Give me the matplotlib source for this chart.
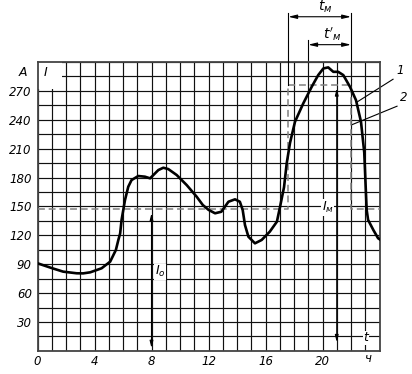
import numpy as np
import matplotlib.pyplot as plt
from matplotlib.patches import Rectangle

plt.rcParams['font.family'] = ['DejaVu Sans']
plt.rcParams['font.style'] = 'italic'
plt.rcParams['mathtext.fontset'] = 'dejavusans'

# load curve 1 (hours, amperes)
t1 = [0, 0.5, 1.0, 1.8, 2.75, 3.2, 3.7, 4.5, 5.1, 5.5, 5.67, 5.8, 5.9, 6.14, 6.37,
      6.6, 7.07, 7.54, 7.9, 8.13, 8.48, 8.83, 9.18, 9.77, 10.47, 11.17, 11.6, 12.0,
      12.46, 12.9, 13.4, 13.86, 14.2, 14.4, 14.56, 14.8, 15.26, 15.73, 16.3, 16.8,
      17.02, 17.3, 17.49, 17.72, 18.07, 18.65, 19.24, 19.7, 20.06, 20.4, 20.76, 21.1,
      21.46, 21.93, 22.35, 22.7, 22.93, 23.03, 23.1, 23.2, 23.57, 23.9, 24.0]
i1 = [91, 88.5, 86, 82.3, 80.6, 80.5, 81.6, 85.8, 92.7, 104.8, 115, 122, 136, 156.7,
      170.5, 177.4, 181.6, 180.9, 179.2, 182.6, 187.8, 190.2, 188.8, 182.6, 172.2,
      160.1, 151.5, 146.5, 142.9, 144.5, 154.9, 157.4, 154.9, 146.3, 130.7, 118.6,
      111.7, 115.2, 123.8, 134.2, 149.6, 170, 195, 216, 238, 257, 274.2, 286.4,
      293.3, 294.4, 289.8, 289.8, 286.4, 274.2, 260.4, 238, 206, 170.5, 146.3, 136,
      125.5, 117, 116]

# equivalent rectangular load (curve 2)
t2 = [0, 17.6, 17.6, 22.0, 22.0, 24]
i2 = [147, 147, 276, 276, 147, 147]

t_m = (17.6, 22.0)
t_m2 = (19.0, 22.0)

xticks = [0, 4, 8, 12, 16, 20]
yticks = [30, 60, 90, 120, 150, 180, 210, 240, 270]

fig = plt.figure(figsize=(4.12, 3.74), dpi=100)
ax = fig.add_axes([37.5 / 412, 23.1 / 374, 342 / 412, 288.9 / 374])
ax.set_xlim(0, 24)
ax.set_ylim(0, 300)

ax.set_xticks(xticks)
ax.set_xticklabels([str(v) for v in xticks])
ax.set_xticks(np.arange(0, 25, 1), minor=True)
ax.set_yticks(yticks)
ax.set_yticklabels([str(v) for v in yticks])
ax.set_yticks(np.arange(0, 301, 15), minor=True)
ax.tick_params(which='both', length=0, labelsize=8.5)
ax.tick_params(axis='x', pad=3)
ax.tick_params(axis='y', pad=4)
ax.grid(which='both', color='#111111', lw=0.85)
ax.set_axisbelow(True)
for s in ax.spines.values():
    s.set_color('#444444')
    s.set_linewidth(1.3)

# white patch behind the "I" label
ax.add_patch(Rectangle((0, 272), 1.7, 28, facecolor='white', edgecolor='none', zorder=1.5))
ax.text(0.4, 289, 'I', fontsize=9, ha='left', va='center', zorder=3)
ax.text(-1.0, 289, 'A', fontsize=9, ha='center', va='center', clip_on=False)

ax.plot(t2, i2, color='#808080', lw=1.1, dashes=(4.5, 2.5), zorder=3)
ax.plot(t1, i1, color='black', lw=1.9, solid_joinstyle='round', zorder=4)

# I_o and I_m markers
arr = dict(arrowstyle='<|-|>,head_length=0.4,head_width=0.1', color='black', lw=0.8,
           shrinkA=0, shrinkB=0)
ax.annotate('', xy=(8, 143), xytext=(8, 3), arrowprops=arr)
ax.annotate('', xy=(21, 272.7), xytext=(21, 9), arrowprops=arr)

box = dict(facecolor='white', edgecolor='none', pad=0.5)
ax.text(8.25, 82, r'$I_o$', fontsize=9, ha='left', va='center', bbox=box, zorder=3)
ax.text(20.35, 149, r'$I_м$', fontsize=9, ha='center', va='center', bbox=box, zorder=3)
ax.text(23.05, 13.4, 't', fontsize=9, ha='center', va='center', bbox=box, zorder=3)
ax.text(23.2, -8.4, 'ч', fontsize=8.5, ha='center', va='center', clip_on=False)

# dimension lines for t_m and t'_m
ax.plot([t_m[0], t_m[0]], [276, 351], color='black', lw=0.8, clip_on=False, zorder=3)
ax.plot([t_m[1], t_m[1]], [300, 351], color='black', lw=0.8, clip_on=False)
ax.plot([t_m2[0], t_m2[0]], [300, 323], color='black', lw=0.8, clip_on=False)
dim = dict(arrowstyle='<|-|>,head_length=0.5,head_width=0.12', color='black', lw=0.8,
           shrinkA=0, shrinkB=0)
ax.annotate('', xy=(t_m[0], 347), xytext=(t_m[1], 347), arrowprops=dim,
            annotation_clip=False)
ax.annotate('', xy=(t_m2[0], 318), xytext=(t_m2[1], 318), arrowprops=dim,
            annotation_clip=False)
ax.text(20.2, 357, r'$t_м$', fontsize=10, ha='center', va='center', clip_on=False)
ax.text(20.7, 329, r"$t'_м$", fontsize=10, ha='center', va='center', clip_on=False)

# leader lines for curve numbers
ax.plot([24.95, 22.44], [282.1, 258.6], color='black', lw=0.8, clip_on=False)
ax.plot([25.23, 22.07], [254.1, 234.9], color='black', lw=0.8, clip_on=False)
ax.text(25.2, 284, '1', fontsize=8.5, ha='left', va='bottom', clip_on=False)
ax.text(25.45, 256, '2', fontsize=8.5, ha='left', va='bottom', clip_on=False)

fig.savefig('out.png', dpi=100)
